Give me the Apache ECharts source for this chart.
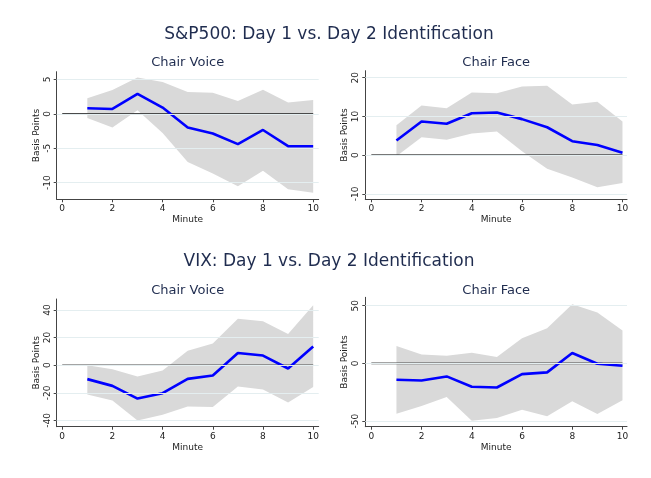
<!DOCTYPE html>
<html>
<head>
<meta charset="utf-8">
<script src="https://cdn.jsdelivr.net/npm/echarts@6/dist/echarts.min.js"></script>
<style>
html,body{margin:0;padding:0;background:#fff;}
#chart{width:651px;height:478px;}
</style>
</head>
<body>
<div id="chart"></div>
<script>
// ---- data ----
var minutes = [1, 2, 3, 4, 5, 6, 7, 8, 9, 10];
var xTicks = [0, 2, 4, 6, 8, 10];

var spVoiceMean  = [0.8, 0.7, 2.9, 0.9, -2.0, -2.85, -4.4, -2.35, -4.7, -4.7];
var spVoiceUpper = [2.25, 3.45, 5.25, 4.6, 3.15, 3.05, 1.85, 3.5, 1.65, 2.0];
var spVoiceLower = [-0.6, -2.0, 0.5, -2.8, -7.0, -8.65, -10.5, -8.25, -10.95, -11.45];
var spVoiceTicks = [-10, -5, 0, 5];

var spFaceMean  = [3.8, 8.7, 8.1, 10.8, 11.0, 9.3, 7.2, 3.6, 2.6, 0.6];
var spFaceUpper = [7.7, 12.8, 12.1, 16.2, 16.0, 17.7, 17.9, 13.1, 13.8, 8.7];
var spFaceLower = [-0.3, 4.6, 4.0, 5.6, 6.1, 1.0, -3.5, -5.8, -8.3, -7.2];
var spFaceTicks = [-10, 0, 10, 20];

var vixVoiceMean  = [-10.1, -15.0, -24.2, -20.3, -9.9, -7.5, 8.9, 7.0, -2.4, 13.5];
var vixVoiceUpper = [0.0, -2.9, -8.2, -3.9, 10.4, 15.7, 33.6, 31.9, 22.7, 43.5];
var vixVoiceLower = [-21.3, -25.6, -40.1, -36.0, -30.0, -30.4, -15.5, -17.6, -27.1, -15.9];
var vixVoiceTicks = [-40, -20, 0, 20, 40];

var vixFaceMean  = [-14.2, -14.8, -11.3, -20.3, -20.9, -9.3, -7.8, 9.0, -0.3, -2.0];
var vixFaceUpper = [15.1, 7.6, 6.7, 9.3, 5.5, 21.8, 30.5, 51.2, 44.2, 28.5];
var vixFaceLower = [-43.6, -36.9, -29.1, -49.7, -47.4, -40.1, -45.9, -32.8, -43.9, -32.0];
var vixFaceTicks = [-50, 0, 50];

var zeroX = [0, 10];
var zeroY = [0, 0];

var mainTitles = ['S&P500: Day 1 vs. Day 2 Identification', 'VIX: Day 1 vs. Day 2 Identification'];
var panelTitles = ['Chair Voice', 'Chair Face', 'Chair Voice', 'Chair Face'];

// ---- layout ----
var FONT = 'DejaVu Sans';
var panels = [
  {mean: spVoiceMean, up: spVoiceUpper, lo: spVoiceLower, ticks: spVoiceTicks, yMin: -12.4, yMax: 6.1,
   grid: {left: 56.7, top: 71.7, width: 262, height: 127.6}, xMin: -0.22, xMax: 10.22},
  {mean: spFaceMean, up: spFaceUpper, lo: spFaceLower, ticks: spFaceTicks, yMin: -11.4, yMax: 21.8,
   grid: {left: 365.3, top: 70.7, width: 261.7, height: 128.6}, xMin: -0.24, xMax: 10.18},
  {mean: vixVoiceMean, up: vixVoiceUpper, lo: vixVoiceLower, ticks: vixVoiceTicks, yMin: -44.6, yMax: 48,
   grid: {left: 56.7, top: 299, width: 262, height: 127.7}, xMin: -0.22, xMax: 10.22},
  {mean: vixFaceMean, up: vixFaceUpper, lo: vixFaceLower, ticks: vixFaceTicks, yMin: -54.9, yMax: 57.3,
   grid: {left: 365.3, top: 297.3, width: 261.7, height: 129.4}, xMin: -0.24, xMax: 10.18}
];

var grids = [], xAxes = [], yAxes = [], series = [];
var axisColor = '#444';
var textColor = '#222';

function bandRenderer(p) {
  return function (params, api) {
    if (params.dataIndex !== 0) return null;
    var pts = [];
    var k;
    for (k = 0; k < minutes.length; k++) pts.push(api.coord([minutes[k], p.up[k]]));
    for (k = minutes.length - 1; k >= 0; k--) pts.push(api.coord([minutes[k], p.lo[k]]));
    return {
      type: 'polygon',
      shape: {points: pts},
      style: {fill: '#d9d9d9', stroke: null}
    };
  };
}

panels.forEach(function (p, i) {
  grids.push(p.grid);
  xAxes.push({
    type: 'value', gridIndex: i, min: p.xMin, max: p.xMax,
    name: 'Minute', nameLocation: 'middle', nameGap: 16,
    nameTextStyle: {fontFamily: FONT, fontSize: 9, color: textColor},
    axisLine: {show: true, onZero: false, lineStyle: {color: axisColor, width: 1}},
    axisTick: {show: true, length: 3, customValues: xTicks, lineStyle: {color: axisColor}},
    axisLabel: {customValues: xTicks, margin: 5, fontFamily: FONT, fontSize: 9, color: textColor},
    splitLine: {show: false}
  });
  yAxes.push({
    type: 'value', gridIndex: i, min: p.yMin, max: p.yMax,
    name: 'Basis Points', nameLocation: 'middle', nameGap: 16,
    nameTextStyle: {fontFamily: FONT, fontSize: 9, color: textColor},
    axisLine: {show: true, onZero: false, lineStyle: {color: axisColor, width: 1}},
    axisTick: {show: true, length: 3, customValues: p.ticks, lineStyle: {color: axisColor}},
    axisLabel: {customValues: p.ticks, rotate: 90, margin: 5, fontFamily: FONT, fontSize: 9, color: textColor},
    splitLine: {show: false}
  });
  // grid lines
  series.push({
    type: 'line', xAxisIndex: i, yAxisIndex: i, data: [], z: 1, silent: true,
    markLine: {
      silent: true, symbol: 'none', label: {show: false},
      lineStyle: {color: '#e4eef0', width: 1, type: 'solid'},
      emphasis: {disabled: true},
      data: p.ticks.map(function (v) { return {yAxis: v}; })
    }
  });
  // confidence band
  series.push({
    type: 'custom', xAxisIndex: i, yAxisIndex: i, z: 2, silent: true,
    renderItem: bandRenderer(p),
    data: minutes.map(function (m, k) { return [m, p.lo[k], p.up[k]]; }),
    encode: {x: 0, y: [1, 2]}
  });
  // zero line
  series.push({
    type: 'line', xAxisIndex: i, yAxisIndex: i, symbol: 'none', z: 3, silent: true,
    lineStyle: {color: '#4a4a4a', width: 1.6},
    data: zeroX.map(function (x, k) { return [x, zeroY[k]]; })
  });
  // mean estimate
  series.push({
    type: 'line', xAxisIndex: i, yAxisIndex: i, symbol: 'none', z: 4, silent: true,
    lineStyle: {color: '#0000ff', width: 2.6},
    data: minutes.map(function (m, k) { return [m, p.mean[k]]; })
  });
});

var titleColor = '#1f2c4f';
var graphics = [
  {type: 'text', x: 329, y: 35, style: {text: mainTitles[0], font: '17px "DejaVu Sans"', fill: titleColor, align: 'center', verticalAlign: 'middle'}},
  {type: 'text', x: 329, y: 262, style: {text: mainTitles[1], font: '17px "DejaVu Sans"', fill: titleColor, align: 'center', verticalAlign: 'middle'}}
];
var subPos = [[187.7, 63], [496.2, 63], [187.7, 291], [496.2, 291]];
subPos.forEach(function (s, i) {
  graphics.push({type: 'text', x: s[0], y: s[1], style: {text: panelTitles[i], font: '13px "DejaVu Sans"', fill: titleColor, align: 'center', verticalAlign: 'middle'}});
});

var chart = echarts.init(document.getElementById('chart'), null, {renderer: 'canvas'});
chart.setOption({
  animation: false,
  backgroundColor: '#ffffff',
  grid: grids,
  xAxis: xAxes,
  yAxis: yAxes,
  series: series,
  graphic: graphics
});
</script>
</body>
</html>
